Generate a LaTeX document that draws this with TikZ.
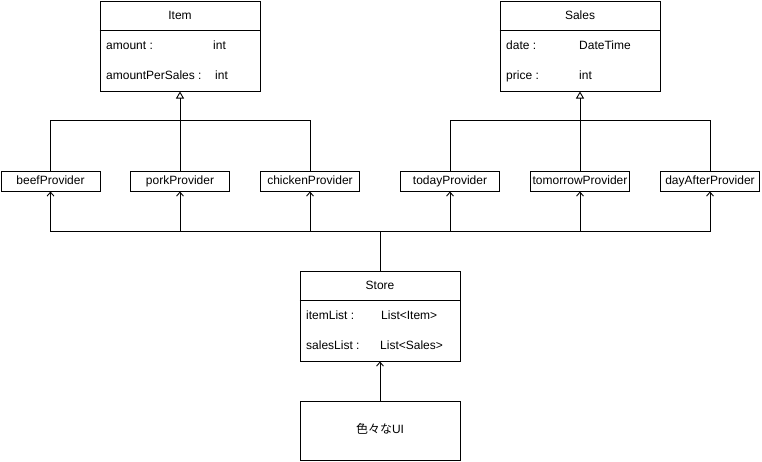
\documentclass[tikz,border=0pt]{standalone}
\usepackage{fontspec}
\setmainfont{Liberation Sans}
\newfontfamily\cjk{Noto Sans CJK JP}
\usetikzlibrary{arrows.meta}
\begin{document}
\begin{tikzpicture}[x=1pt,y=-1pt,
  every node/.style={font=\fontsize{12}{14}\selectfont, inner sep=0pt, text height=8.6pt, text depth=2.4pt},
  box/.style={draw, line width=1pt, fill=white},
  classbox/.style={box, minimum width=160pt, minimum height=90pt},
  prov/.style={box, minimum width=99pt, minimum height=20pt},
  ln/.style={line width=1pt},
  arr/.style={ln, -{Straight Barb[length=4pt,width=7pt,line width=0.9pt]}},
  inh/.style={ln, -{Triangle[open,length=7pt,width=8pt,line width=0.9pt]}},
  attr/.style={anchor=west}
]
\useasboundingbox (0,0) rectangle (762,461);
\fill[white] (0,0) rectangle (762,461);

% classes
\node[classbox] (item) at (180,46) {};
\draw[ln] ([yshift=-30pt]item.north west) -- ([yshift=-30pt]item.north east);
\node (itemT) at (180,16) {Item};
\node[attr] (itemA1) at (106,46) {amount :};
\node[attr] (itemA1t) at (213,46) {int};
\node[attr] (itemA2) at (106,76) {amountPerSales :};
\node[attr] (itemA2t) at (215,76) {int};

\node[classbox] (sales) at (580,46) {};
\draw[ln] ([yshift=-30pt]sales.north west) -- ([yshift=-30pt]sales.north east);
\node (salesT) at (580,16) {Sales};
\node[attr] (salesA1) at (506,46) {date :};
\node[attr] (salesA1t) at (579,46) {DateTime};
\node[attr] (salesA2) at (506,76) {price :};
\node[attr] (salesA2t) at (579,76) {int};

\node[classbox] (store) at (380,316) {};
\draw[ln] ([yshift=-30pt]store.north west) -- ([yshift=-30pt]store.north east);
\node (storeT) at (380,286) {Store};
\node[attr] (storeA1) at (306,316) {itemList :};
\node[attr] (storeA1t) at (381,316) {List<Item>};
\node[attr] (storeA2) at (306,346) {salesList :};
\node[attr] (storeA2t) at (380,346) {List<Sales>};

\node[box, minimum width=160pt, minimum height=59.5pt] (ui) at (380,430.75) {\cjk 色々な\rmfamily UI};

% providers
\node[prov] (beef) at (50.5,181) {beefProvider};
\node[prov] (pork) at (180,181) {porkProvider};
\node[prov] (chicken) at (310,181) {chickenProvider};
\node[prov] (today) at (450,181) {todayProvider};
\node[prov] (tomorrow) at (580,181) {tomorrowProvider};
\node[prov] (dayafter) at (710,181) {dayAfterProvider};

% inheritance
\draw[ln] (beef.north) -- ++(0,-50) -| (chicken.north);
\draw[inh] (pork.north) -- (item.south);
\draw[ln] (today.north) -- ++(0,-50) -| (dayafter.north);
\draw[inh] (tomorrow.north) -- (sales.south);

% store to providers
\coordinate (j) at (380,231);
\draw[ln] (store.north) -- (j);
\foreach \p in {beef,pork,chicken,today,tomorrow,dayafter}
  \draw[arr] (j) -| (\p.south);

\draw[arr] (ui.north) -- (store.south);
\end{tikzpicture}
\end{document}
